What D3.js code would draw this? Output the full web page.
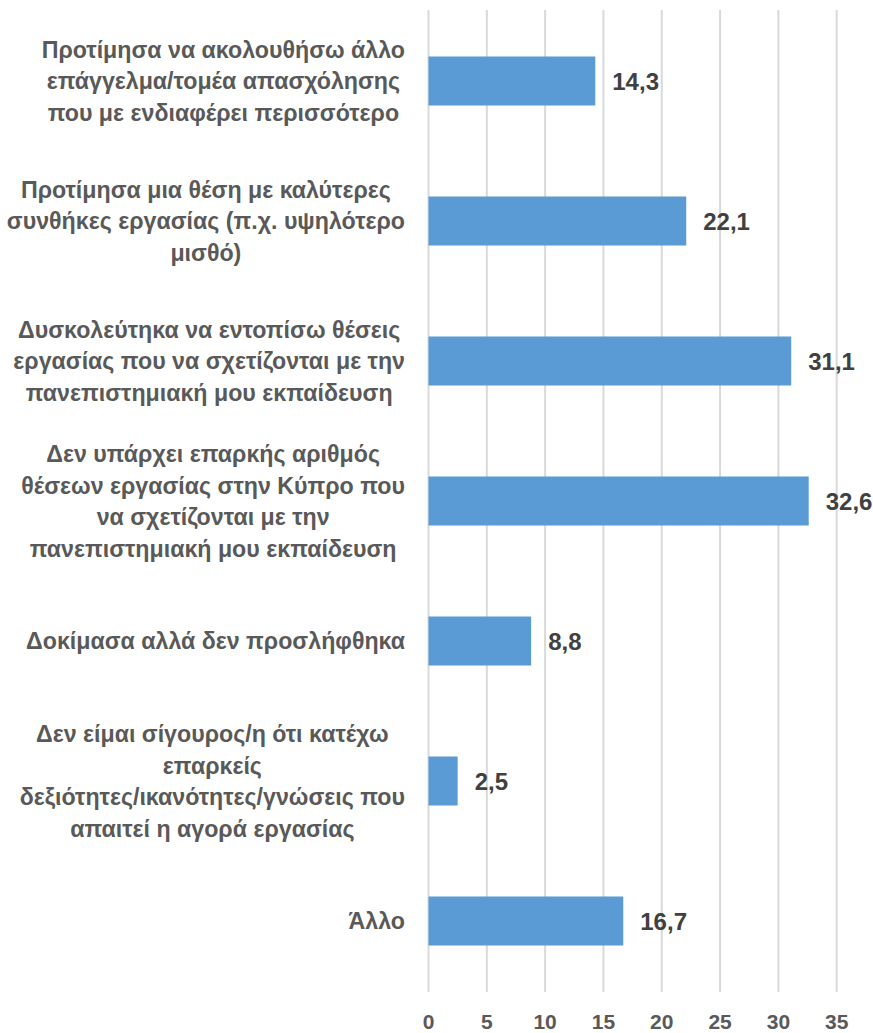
<!DOCTYPE html>
<html>
<head>
<meta charset="utf-8">
<script src="https://cdn.jsdelivr.net/npm/d3@7"></script>
<style>
  body { margin: 0; background: #fff; }
  text { font-family: "Liberation Sans", Arial, sans-serif; font-weight: bold; }
</style>
</head>
<body>
<div id="chart"></div>
<script>
// categories (already wrapped as in the original)
var categories = [
  ["Προτίμησα να ακολουθήσω άλλο", "επάγγελμα/τομέα απασχόλησης", "που με ενδιαφέρει περισσότερο"],
  ["Προτίμησα μια θέση με καλύτερες", "συνθήκες εργασίας (π.χ. υψηλότερο", "μισθό)"],
  ["Δυσκολεύτηκα να εντοπίσω θέσεις", "εργασίας που να σχετίζονται με την", "πανεπιστημιακή  μου εκπαίδευση"],
  ["Δεν υπάρχει επαρκής αριθμός", "θέσεων εργασίας στην Κύπρο που", "να σχετίζονται με την", "πανεπιστημιακή  μου εκπαίδευση"],
  ["Δοκίμασα αλλά δεν προσλήφθηκα"],
  ["Δεν είμαι σίγουρος/η ότι κατέχω", "επαρκείς", "δεξιότητες/ικανότητες/γνώσεις που", "απαιτεί η αγορά εργασίας"],
  ["Άλλο"]
];
var values = [14.3, 22.1, 31.1, 32.6, 8.8, 2.5, 16.7];
var xTicks = [0, 5, 10, 15, 20, 25, 30, 35];

var width = 873, height = 1033;
var plot = {left: 428.5, right: 836.7, top: 11, bottom: 991};

var svg = d3.select("#chart")
  .append("svg")
    .attr("width", width)
    .attr("height", height);

var x = d3.scaleLinear()
  .domain([0, 35])
  .range([plot.left, plot.right]);

var y = d3.scaleBand()
  .domain(d3.range(values.length))
  .range([plot.top, plot.bottom])
  .paddingInner(0.65)
  .paddingOuter(0.325);

// gridlines
svg.selectAll(".grid")
  .data(xTicks)
  .enter()
  .append("line")
    .attr("x1", function(d) { return x(d); })
    .attr("x2", function(d) { return x(d); })
    .attr("y1", 10)
    .attr("y2", 992)
    .attr("stroke", "#d9d9d9")
    .attr("stroke-width", 2);

// tick labels
svg.selectAll(".tick")
  .data(xTicks)
  .enter()
  .append("text")
    .attr("x", function(d) { return x(d); })
    .attr("y", 1029)
    .attr("text-anchor", "middle")
    .attr("font-size", 21)
    .attr("fill", "#595959")
    .text(function(d) { return d; });

// bars
svg.selectAll(".bar")
  .data(values)
  .enter()
  .append("rect")
    .attr("x", x(0))
    .attr("y", function(d, i) { return y(i); })
    .attr("width", function(d) { return x(d) - x(0); })
    .attr("height", y.bandwidth())
    .attr("fill", "#5b9bd5");

// value labels
svg.selectAll(".val")
  .data(values)
  .enter()
  .append("text")
    .attr("x", function(d) { return x(d) + 17; })
    .attr("y", function(d, i) { return y(i) + y.bandwidth() / 2; })
    .attr("dy", "0.36em")
    .attr("font-size", 24)
    .attr("fill", "#404040")
    .text(function(d) { return String(d).replace(".", ","); });

// category labels: centred block, right edge at 405
var lineH = 31.7;
var labelRight = 405;
categories.forEach(function(lines, i) {
  var cy = y(i) + y.bandwidth() / 2;
  var g = svg.append("g");
  var t = g.selectAll("text")
    .data(lines)
    .enter()
    .append("text")
      .attr("y", function(d, k) { return cy + (k - (lines.length - 1) / 2) * lineH; })
      .attr("dy", "0.36em")
      .attr("text-anchor", "middle")
      .attr("font-size", 23.2)
      .attr("fill", "#595959")
      .text(function(d) { return d; });
  var maxW = d3.max(t.nodes(), function(n) { return n.getComputedTextLength(); });
  t.attr("x", labelRight - maxW / 2);
});
</script>
</body>
</html>
